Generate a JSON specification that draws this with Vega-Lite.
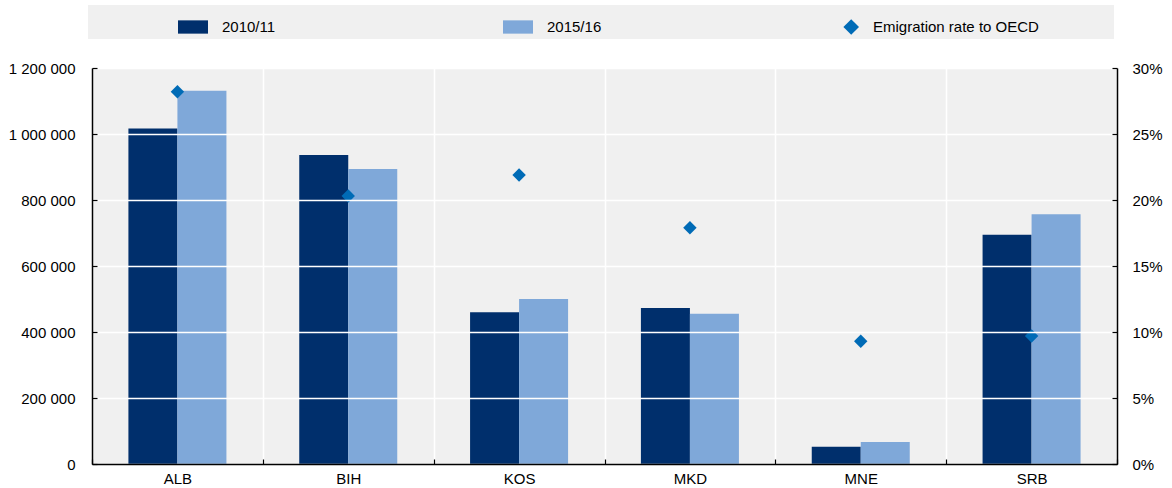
{
  "$schema": "https://vega.github.io/schema/vega-lite/v6.json",
  "autosize": {"type": "none"},
  "padding": {"left": 92, "top": 68, "right": 55, "bottom": 24},
  "width": 1025,
  "height": 396,
  "background": "white",
  "config": {
    "view": {"fill": "#f0f0f0", "stroke": null},
    "font": "Liberation Sans",
    "axis": {"labelFont": "Liberation Sans", "labelFontSize": 15, "labelColor": "#000000", "labelOverlap": false}
  },
  "datasets": {
    "bars": [
      {"country": "ALB", "series": "2010/11", "value": 1017000},
      {"country": "ALB", "series": "2015/16", "value": 1131000},
      {"country": "BIH", "series": "2010/11", "value": 936000},
      {"country": "BIH", "series": "2015/16", "value": 894000},
      {"country": "KOS", "series": "2010/11", "value": 460000},
      {"country": "KOS", "series": "2015/16", "value": 500000},
      {"country": "MKD", "series": "2010/11", "value": 473000},
      {"country": "MKD", "series": "2015/16", "value": 455000},
      {"country": "MNE", "series": "2010/11", "value": 52000},
      {"country": "MNE", "series": "2015/16", "value": 67000},
      {"country": "SRB", "series": "2010/11", "value": 695000},
      {"country": "SRB", "series": "2015/16", "value": 757000}
    ],
    "rates": [
      {"country": "ALB", "rate": 28.2},
      {"country": "BIH", "rate": 20.3},
      {"country": "KOS", "rate": 21.9},
      {"country": "MKD", "rate": 17.9},
      {"country": "MNE", "rate": 9.3},
      {"country": "SRB", "rate": 9.7}
    ]
  },
  "encoding": {
    "x": {
      "field": "country",
      "type": "nominal",
      "sort": ["ALB", "BIH", "KOS", "MKD", "MNE", "SRB"],
      "scale": {"paddingInner": 0, "paddingOuter": 0},
      "axis": {
        "title": null,
        "labelAngle": 0,
        "tickBand": "extent",
        "grid": true,
        "gridColor": "#ffffff",
        "gridWidth": 1.5,
        "domainColor": "#000000",
        "domainWidth": 1.5,
        "tickColor": "#000000",
        "tickWidth": 1.2,
        "tickSize": -5,
        "labelPadding": 12,
        "zindex": 1
      }
    }
  },
  "layer": [
    {
      "data": {"name": "bars"},
      "mark": {"type": "bar", "opacity": 1},
      "encoding": {
        "xOffset": {
          "field": "series",
          "type": "nominal",
          "scale": {"domain": ["2010/11", "2015/16"], "paddingInner": 0, "paddingOuter": 0.743}
        },
        "y": {
          "field": "value",
          "type": "quantitative",
          "scale": {"domain": [0, 1200000], "nice": false},
          "axis": {
            "title": null,
            "orient": "left",
            "values": [0, 200000, 400000, 600000, 800000, 1000000, 1200000],
            "labelExpr": "replace(replace(format(datum.value, ','), ',', ' '), ',', ' ')",
            "grid": true,
            "gridColor": "#ffffff",
            "gridWidth": 1.5,
            "domainColor": "#000000",
            "domainWidth": 1.5,
            "tickColor": "#000000",
            "tickWidth": 1.2,
            "tickSize": -5,
            "labelPadding": 22,
            "zindex": 1
          }
        },
        "color": {
          "field": "series",
          "type": "nominal",
          "scale": {
            "domain": ["2010/11", "2015/16", "Emigration rate to OECD"],
            "range": ["#002F6C", "#7FA8D9", "#006BB6"]
          },
          "legend": {
            "orient": "none",
            "legendX": -4,
            "legendY": -63,
            "direction": "horizontal",
            "columns": 3,
            "columnPadding": 227,
            "padding": 4,
            "fillColor": "#f0f0f0",
            "strokeColor": null,
            "title": "\u00a0",
            "titleOrient": "left",
            "titlePadding": 86,
            "titleFontSize": 15,
            "titleFont": "Liberation Sans",
            "symbolSize": 900,
            "symbolStrokeWidth": 0,
            "symbolOpacity": 1,
            "labelOffset": 14,
            "labelFont": "Liberation Sans",
            "labelFontSize": 15,
            "labelColor": "#000000",
            "labelLimit": 400,
            "labelExpr": "datum.label == 'Emigration rate to OECD' ? datum.label + '\u00a0\u00a0\u00a0\u00a0\u00a0\u00a0\u00a0\u00a0\u00a0\u00a0\u00a0\u00a0\u00a0\u00a0\u00a0\u00a0\u00a0\u200b' : datum.label",
            "encode": {
              "symbols": {
                "update": {
                  "shape": {"signal": "datum.value == 'Emigration rate to OECD' ? 'M-0.04,0.2L0.48,-0.32L1,0.2L0.48,0.72Z' : 'M-1,-0.243L1,-0.243L1,0.643L-1,0.643Z'"},
                  "fill": {"scale": "color", "field": "value"},
                  "opacity": {"value": 1},
                  "strokeWidth": {"value": 0}
                }
              },
              "labels": {"update": {"dy": {"value": 3}}}
            }
          }
        }
      }
    },
    {
      "data": {"name": "rates"},
      "mark": {"type": "point", "shape": "diamond", "filled": true, "size": 180, "opacity": 1, "strokeWidth": 0},
      "encoding": {
        "y": {
          "field": "rate",
          "type": "quantitative",
          "scale": {"domain": [0, 30], "nice": false},
          "axis": {
            "title": null,
            "orient": "right",
            "values": [0, 5, 10, 15, 20, 25, 30],
            "labelExpr": "datum.value + '%'",
            "grid": false,
            "domainColor": "#000000",
            "domainWidth": 1.5,
            "tickColor": "#000000",
            "tickWidth": 1.2,
            "tickSize": -5,
            "labelPadding": 20,
            "zindex": 1
          }
        },
        "color": {"datum": "Emigration rate to OECD"}
      }
    }
  ],
  "resolve": {"scale": {"y": "independent"}}
}
